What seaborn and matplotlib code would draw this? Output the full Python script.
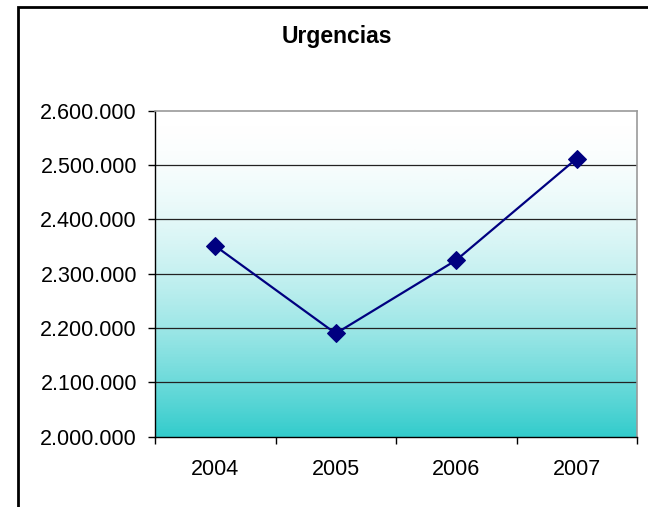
import numpy as np
import pandas as pd
import matplotlib
matplotlib.use("Agg")
import matplotlib.pyplot as plt
from matplotlib.colors import LinearSegmentedColormap
from matplotlib.patches import Rectangle
from matplotlib.ticker import FuncFormatter, FixedLocator
import seaborn as sns

# Annual emergency visits
years = ["2004", "2005", "2006", "2007"]
visits = [2351000, 2190000, 2325000, 2512000]
y_ticks = [2000000, 2100000, 2200000, 2300000, 2400000, 2500000, 2600000]
title = "Urgencias"

sns.set_theme(style="white")
plt.rcParams["font.family"] = ["Liberation Sans", "DejaVu Sans"]

fig = plt.figure(figsize=(6.48, 5.07), dpi=100)
fig.patch.set_facecolor("white")
ax = fig.add_axes([155 / 648, 1 - 436.7 / 507, (637 - 155) / 648, (436.7 - 110.7) / 507])

# Chart frame around the whole figure
fig.patches.append(Rectangle((18 / 648, -0.05), 1.2, 1 - 7 / 507 + 0.05,
                             transform=fig.transFigure, fill=False,
                             edgecolor="black", linewidth=2.0, zorder=10))

# Vertical white-to-teal fill behind the plot, fading faster near the bottom
cmap = LinearSegmentedColormap.from_list("teal_fade", ["#FFFFFF", "#33CCCC"])
depth = np.linspace(1, 0, 256).reshape(-1, 1) ** 1.8
ax.imshow(depth, cmap=cmap, vmin=0, vmax=1, aspect="auto", extent=[0, 1, 0, 1],
          transform=ax.transAxes, origin="lower", zorder=0)

df = pd.DataFrame({"Año": years, "Urgencias": visits})
df["pos"] = np.arange(len(years))
sns.lineplot(data=df, x="pos", y="Urgencias", ax=ax, color="#000080",
             marker="D", markersize=9.5, markeredgecolor="#000080",
             linewidth=1.6, zorder=5)

ax.set_xlim(-0.5, len(years) - 0.5)
ax.set_ylim(y_ticks[0], y_ticks[-1])

# Category labels centred, ticks on the category boundaries
ax.xaxis.set_major_locator(FixedLocator(df["pos"].tolist()))
ax.set_xticklabels(years)
ax.xaxis.set_minor_locator(FixedLocator(np.arange(-0.5, len(years), 1.0)))
ax.tick_params(axis="x", which="major", length=0, pad=16, labelsize=15.5, colors="black")
ax.tick_params(axis="x", which="minor", bottom=True, length=5, width=1, color="black", direction="out")

ax.set_yticks(y_ticks)
ax.yaxis.set_major_formatter(FuncFormatter(lambda v, p: f"{int(v):,}".replace(",", ".")))
ax.tick_params(axis="y", which="major", left=True, length=5, width=1, color="black",
               direction="out", pad=8, labelsize=15.5, labelcolor="black")

ax.grid(False)
for v in y_ticks[1:-1]:
    ax.axhline(v, color="#222222", linewidth=0.9, zorder=2)

ax.set_xlabel("")
ax.set_ylabel("")
for side in ["left", "bottom"]:
    ax.spines[side].set_color("black")
    ax.spines[side].set_linewidth(1.0)
for side in ["top", "right"]:
    ax.spines[side].set_color("#9a9a9a")
    ax.spines[side].set_linewidth(1.2)
for s in ax.spines.values():
    s.set_zorder(6)

fig.text(337 / 648, 1 - 37 / 507, title, ha="center", va="center",
         fontsize=16.5, fontweight="bold", color="black")

fig.savefig("out.png", dpi=100, facecolor="white")
